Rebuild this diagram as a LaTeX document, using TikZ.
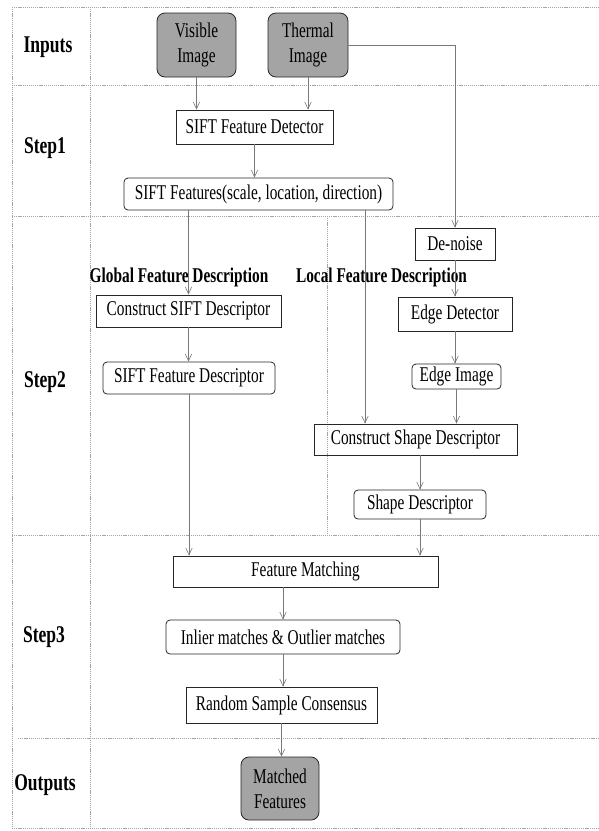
\documentclass[tikz,border=0pt]{standalone}
\usepackage{fontspec}
\setmainfont{Liberation Serif}[FakeStretch=0.73]
\usetikzlibrary{arrows.meta,positioning,shapes}
\definecolor{inputgray}{RGB}{164,164,164}
\definecolor{linegray}{RGB}{120,120,120}
\definecolor{gridgray}{RGB}{165,165,165}
\tikzstyle{inout} = [rectangle, rounded corners=8pt, draw=black!85, fill=inputgray, line width=0.8pt, align=center, inner sep=0pt, minimum width=79pt, minimum height=64pt]
\tikzstyle{process} = [rectangle, draw=black!85, line width=0.8pt, inner sep=0pt, minimum height=32pt]
\tikzstyle{result} = [process, rounded corners=4pt]
\tikzstyle{steplabel} = [font=\fontsize{24}{28}\selectfont\bfseries]
\tikzstyle{grouplabel} = [font=\fontsize{21}{24}\selectfont\bfseries]
\tikzstyle{divider} = [gridgray, line width=0.6pt, dash pattern=on 1.2pt off 0.9pt]
\tikzstyle{arrow} = [->, linegray, line width=0.6pt]

\begin{document}
\begin{tikzpicture}[x=1pt, y=-1pt, font=\fontsize{21}{25}\selectfont, >={Straight Barb[length=7pt,width=6.5pt]}]
	\useasboundingbox (0,0) rectangle (599,831);

	%grid
	\draw[divider] (12,7) -- (599,7);
	\draw[divider] (12,85) -- (599,85);
	\draw[divider] (12,216) -- (599,216);
	\draw[divider] (12,535) -- (599,535);
	\draw[divider] (18,738) -- (599,738);
	\draw[divider] (12,828) -- (599,828);
	\draw[divider] (12,7) -- (12,828);
	\draw[divider] (90,7) -- (90,828);
	\draw[divider] (327,216) -- (327,535);

	%row labels
	\node[steplabel] (lin) at (48,47) {Inputs};
	\node[steplabel] (ls1) at (45,148) {Step1};
	\node[steplabel] (ls2) at (45,382) {Step2};
	\node[steplabel] (ls3) at (44,637) {Step3};
	\node[steplabel] (lout) at (45,785) {Outputs};

	%inputs and step1
	\node[inout] (visible) at (196.5,45) {Visible\\Image};
	\node[inout, minimum width=80pt] (thermal) at (308,45) {Thermal\\Image};
	\node[process, minimum width=157pt, minimum height=34pt] (sfd) at (254.5,127) {SIFT Feature Detector};
	\node[result, minimum width=269pt] (sfeat) at (258.5,194) {SIFT Features(scale, location, direction)};

	%step2
	\node[grouplabel] (global) at (179,277) {Global Feature Description};
	\node[grouplabel] (local) at (381.5,277) {Local Feature Description};
	\node[process, minimum width=185pt] (csift) at (188.5,311) {Construct SIFT Descriptor};
	\node[result, minimum width=172pt] (sfdesc) at (189,378) {SIFT Feature Descriptor};
	\node[process, minimum width=80pt] (denoise) at (455,244) {De-noise};
	\node[process, minimum width=114pt, minimum height=34pt] (edet) at (455,314) {Edge Detector};
	\node[result, minimum width=89pt, minimum height=25pt] (eimg) at (456.5,376.5) {Edge Image};
	\node[process, minimum width=203pt, minimum height=31pt] (cshape) at (415.5,439.5) {Construct Shape Descriptor};
	\node[result, minimum width=132pt, minimum height=29pt] (shdesc) at (420,504.5) {Shape Descriptor};
	\coordinate (tap) at (365,0);

	%step3 and outputs
	\node[process, minimum width=265pt, minimum height=31pt] (fmatch) at (305.5,571.5) {Feature Matching};
	\node[result, minimum width=234pt, minimum height=34pt] (inlier) at (283,637) {Inlier matches \& Outlier matches};
	\node[process, minimum width=191pt, minimum height=36pt] (ransac) at (281.5,705) {Random Sample Consensus};
	\node[inout, minimum width=78pt, minimum height=63pt] (matched) at (280,788.5) {Matched\\Features};

	%arrow
	\draw[arrow] (visible.south) -- (visible.south |- sfd.north);
	\draw[arrow] (thermal.south) -- (thermal.south |- sfd.north);
	\draw[arrow] (sfd.south) -- (sfd.south |- sfeat.north);
	\draw[arrow] (thermal.east) -| (denoise.north);
	\draw[arrow] (sfeat.south -| csift.north) -- (csift.north);
	\draw[arrow] (sfeat.south -| tap) -- (cshape.north -| tap);
	\draw[arrow] (csift.south) -- (csift.south |- sfdesc.north);
	\draw[arrow] (denoise) -- (edet);
	\draw[arrow] (edet.south) -- (edet.south |- eimg.north);
	\draw[arrow] (eimg.south) -- (eimg.south |- cshape.north);
	\draw[arrow] (cshape.south -| shdesc.north) -- (shdesc.north);
	\draw[arrow] (sfdesc.south) -- (sfdesc.south |- fmatch.north);
	\draw[arrow] (shdesc.south) -- (shdesc.south |- fmatch.north);
	\draw[arrow] (inlier.north |- fmatch.south) -- (inlier.north);
	\draw[arrow] (inlier.south) -- (inlier.south |- ransac.north);
	\draw[arrow] (ransac.south) -- (ransac.south |- matched.north);
\end{tikzpicture}
\end{document}
